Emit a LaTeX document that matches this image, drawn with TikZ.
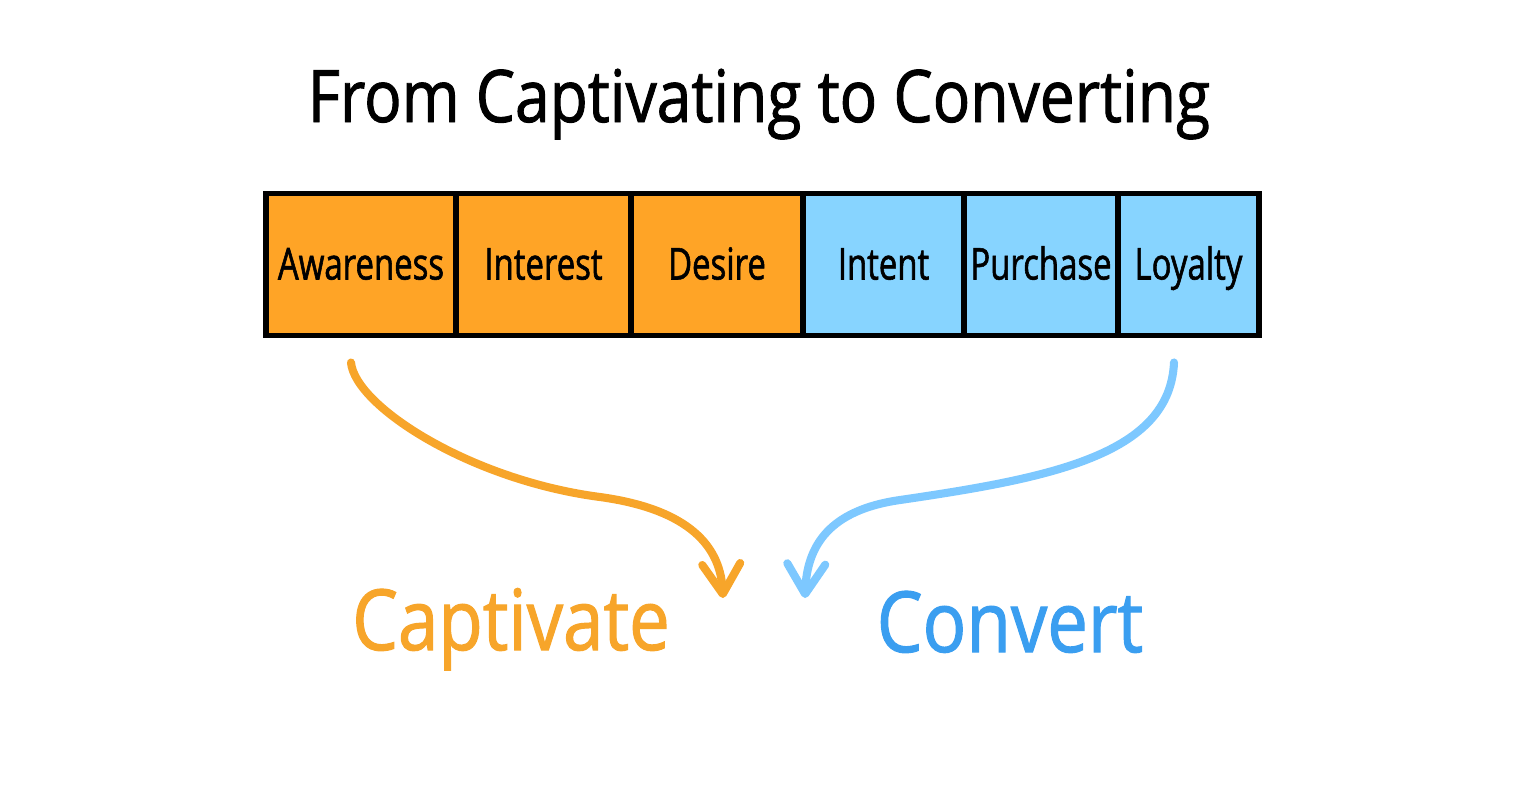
\documentclass[tikz,border=0pt]{standalone}
\usepackage{fontspec}
\setmainfont{Open Sans}
\newfontfamily\titlefont[FakeStretch=0.86,FakeBold=1.3]{Open Sans}
\newfontfamily\boxfont[FakeStretch=0.75,FakeBold=1.3]{Open Sans}
\usepackage{tikz}
\usetikzlibrary{positioning,arrows.meta}
\definecolor{WarmFill}{HTML}{FFA426}
\definecolor{CoolFill}{HTML}{87D4FF}
\definecolor{CapOrange}{HTML}{F7A52A}
\definecolor{ConvBlue}{HTML}{3A9EF0}
\definecolor{ArrowBlue}{HTML}{7DC8FF}

\begin{document}
\begin{tikzpicture}[
  stage/.style={draw=black, line width=1.7pt, minimum height=1.42cm, inner sep=0pt, outer sep=0pt,
    text height=0.36cm, text depth=0.06cm, font=\boxfont\fontsize{12.5}{14}\selectfont},
  warm/.style={stage, fill=WarmFill},
  cool/.style={stage, fill=CoolFill},
  swoop/.style={line width=2.3pt, line cap=round, -{Straight Barb[length=3mm,width=3.8mm,round]}}
]
\useasboundingbox (0,0) rectangle (15.35,8.04);

\node (T) at (7.59,6.82) [anchor=base, font=\titlefont\fontsize{20.6}{24}\selectfont] {From Captivating to Converting};

% the six stages
\node (Aw) [warm, minimum width=1.90cm, anchor=west] at (2.66,5.395) {Awareness};
\node (In) [warm, minimum width=1.75cm, right=0pt of Aw] {Interest};
\node (De) [warm, minimum width=1.72cm, right=0pt of In] {Desire};
\node (It) [cool, minimum width=1.61cm, right=0pt of De] {Intent};
\node (Pu) [cool, minimum width=1.54cm, right=0pt of It] {Purchase};
\node (Lo) [cool, minimum width=1.41cm, right=0pt of Pu] {Loyalty};

\node (Cap) at (5.11,1.54) [anchor=base, CapOrange, font=\titlefont\fontsize{24}{28}\selectfont] {Captivate};
\node (Con) at (10.10,1.52) [anchor=base, ConvBlue, font=\titlefont\fontsize{24}{28}\selectfont] {Convert};

\coordinate (capTip) at (7.23,2.06);
\coordinate (conTip) at (8.05,2.06);

\draw[swoop, CapOrange] (Aw.south) ++(-0.10,-0.27) .. controls (3.55,3.98) and (4.70,3.24) .. (6.00,3.07)
  .. controls (6.80,2.96) and (7.20,2.64) .. (capTip);
\draw[swoop, ArrowBlue] (Lo.south) ++(-0.145,-0.27) .. controls (11.70,3.49) and (10.50,3.26) .. (9.00,3.04)
  .. controls (8.30,2.94) and (8.07,2.59) .. (conTip);

\end{tikzpicture}
\end{document}
